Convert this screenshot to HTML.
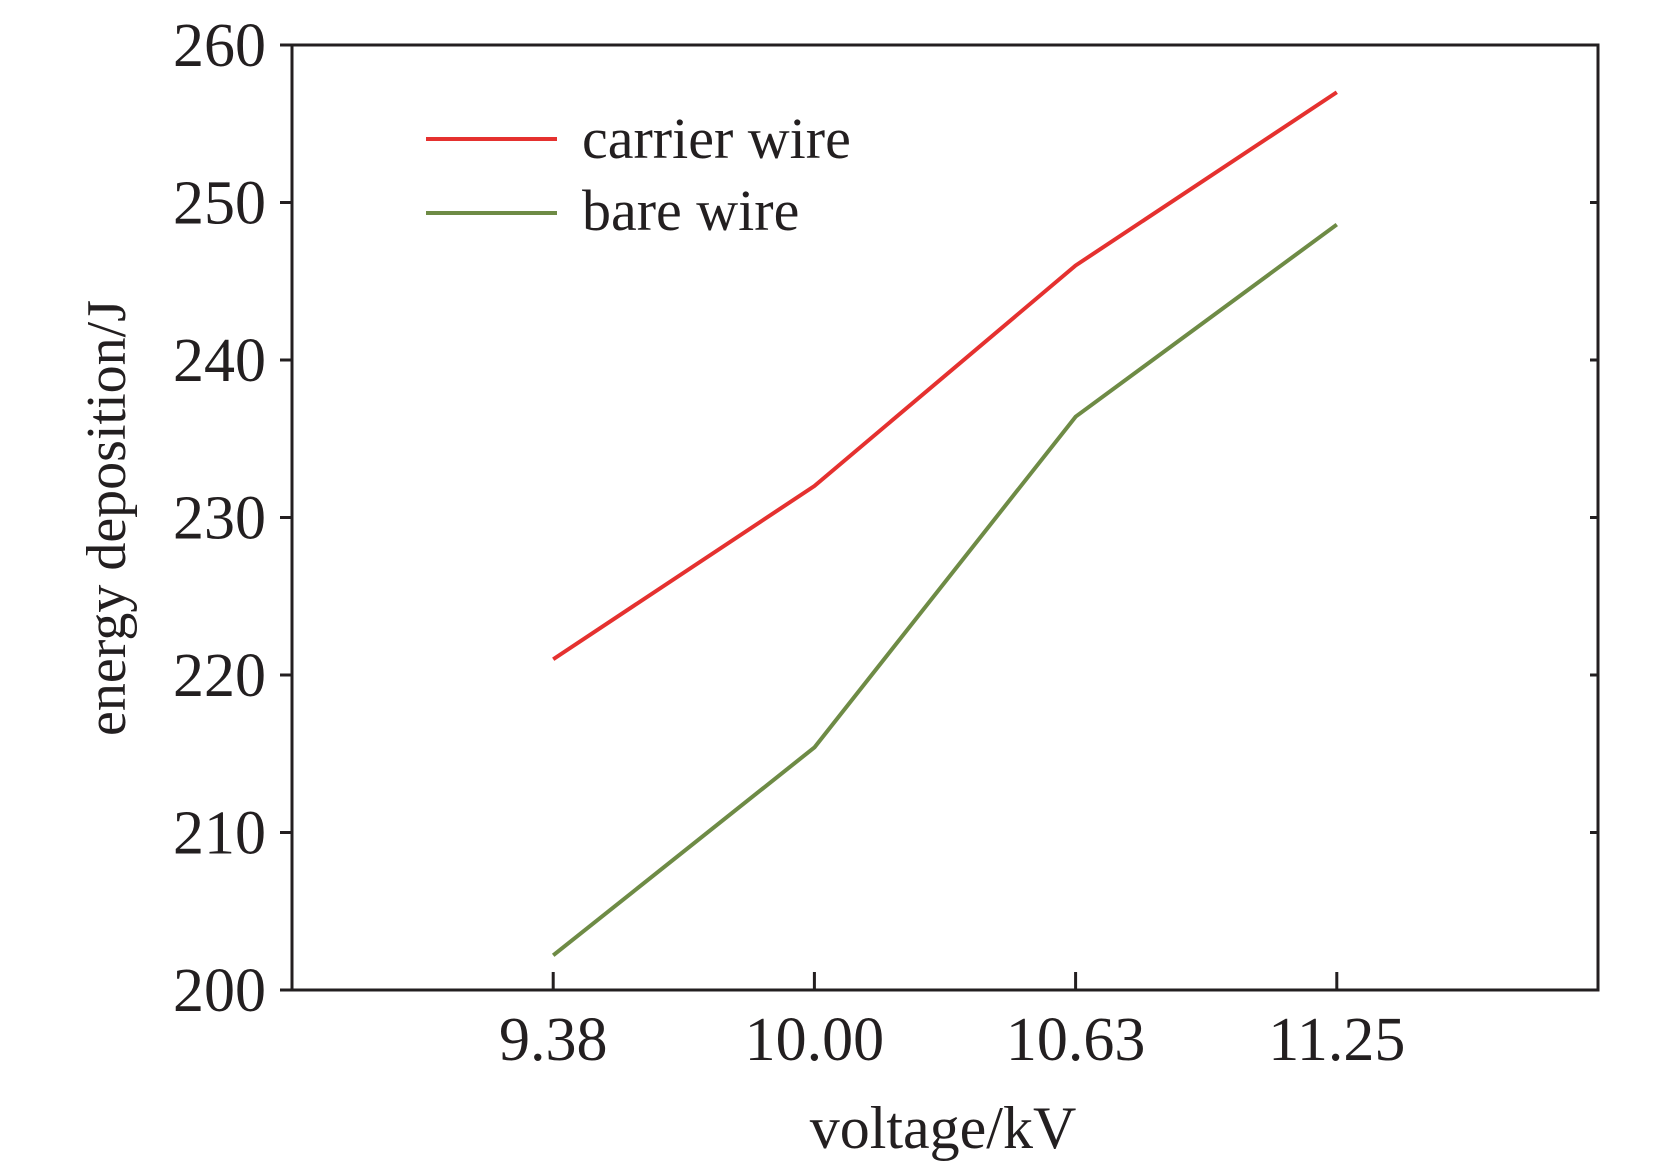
<!DOCTYPE html>
<html><head><meta charset="utf-8"><style>
html,body{margin:0;padding:0;background:#fff;}
svg text{font-family:"Liberation Serif",serif;fill:#231f20;}
</style></head><body>
<svg id="chart" width="1654" height="1167" viewBox="0 0 1654 1167" xmlns="http://www.w3.org/2000/svg">
<g id="axes"></g>
<g id="series"></g>
<g>
<line x1="426" y1="139" x2="557" y2="139" stroke="#e5312f" stroke-width="4"/>
<text x="582" y="158" font-size="58">carrier wire</text>
<line x1="426" y1="213" x2="557" y2="213" stroke="#6e8b45" stroke-width="4"/>
<text x="582" y="230" font-size="58">bare wire</text>
</g>
<text x="943" y="1148" font-size="60" text-anchor="middle">voltage/kV</text>
<text transform="translate(125,518) rotate(-90)" font-size="56" text-anchor="middle">energy deposition/J</text>
</svg>
<script>
const categories=["9.38","10.00","10.63","11.25"];
const carrier=[221,232,246,257];
const bare=[202.2,215.4,236.4,248.6];
const yTicks=[200,210,220,230,240,250,260];
const L=292,R=1598,T=45,B=990,yMin=200,yMax=260;
const NS="http://www.w3.org/2000/svg";
function xs(i){return L+(R-L)*(i+1)/(categories.length+1);}
function ys(v){return B-(v-yMin)/(yMax-yMin)*(B-T);}
function mk(tag,attrs,parent){const e=document.createElementNS(NS,tag);for(const k in attrs)e.setAttribute(k,attrs[k]);parent.appendChild(e);return e;}
const ax=document.getElementById('axes');
const frame=mk('rect',{x:L,y:T,width:R-L,height:B-T,fill:'none',stroke:'#231f20','stroke-width':3},ax);


yTicks.forEach(v=>{
  const t=mk('line',{x1:L-12,y1:ys(v),x2:L,y2:ys(v),stroke:'#231f20','stroke-width':3},ax);
  
  
  const t2=mk('line',{x1:R,y1:ys(v),x2:R-8,y2:ys(v),stroke:'#231f20','stroke-width':3},ax);
  
  
  const lb=mk('text',{x:L-26,y:ys(v)+21,'font-size':62,'text-anchor':'end'},ax);
  lb.textContent=v;
  
  
});
categories.forEach((c,i)=>{
  const t=mk('line',{x1:xs(i),y1:B,x2:xs(i),y2:B-18,stroke:'#231f20','stroke-width':3},ax);
  
  
  const lb=mk('text',{x:xs(i),y:1060,'font-size':62,'text-anchor':'middle'},ax);
  lb.textContent=c;
  
  
});
const sg=document.getElementById('series');
function line(vals,color,name){
  const p=mk('polyline',{points:vals.map((v,i)=>xs(i)+','+ys(v)).join(' '),fill:'none',stroke:color,'stroke-width':4,'stroke-linejoin':'round'},sg);
  
  
}
line(carrier,'#e5312f','carrier-wire-line');
line(bare,'#6e8b45','bare-wire-line');
</script>
</body></html>
